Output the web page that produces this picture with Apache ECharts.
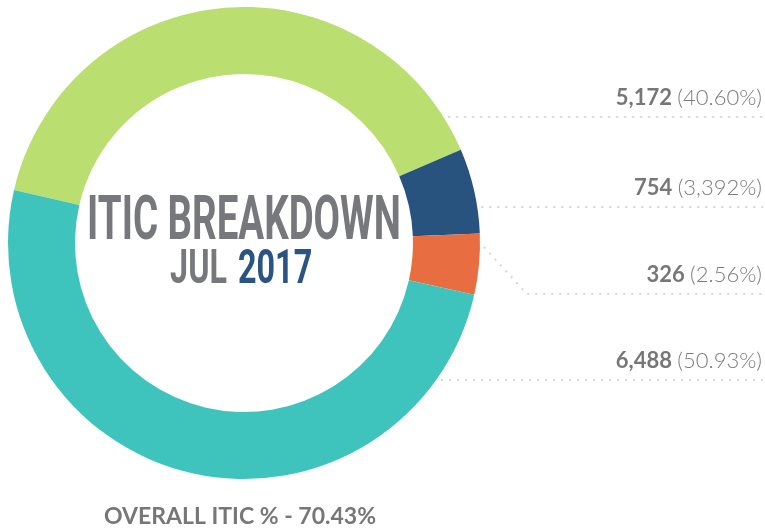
<!DOCTYPE html>
<html>
<head>
<meta charset="utf-8">
<script src="https://cdn.jsdelivr.net/npm/echarts@6/dist/echarts.min.js"></script>
<style>
  html, body { margin: 0; padding: 0; background: #fff; }
  #chart { width: 765px; height: 529px; }
</style>
</head>
<body>
<div id="chart"></div>
<script>
// data
var names = ['Green', 'Blue', 'Orange', 'Teal'];
var values = [5172, 754, 326, 6488];
var pctLabels = ['40.60%', '3,392%', '2.56%', '50.93%'];
var colors = ['#badf70', '#27537e', '#e86e42', '#3fc4bd'];
var labelRowY = [117, 207, 294, 380]; // y of each dotted guide line

var cx = 244, cy = 243, R = 236, r = 169;
var lineEndX = 763;

var chart = echarts.init(document.getElementById('chart'));

function ringX(y) {
  var dy = y - cy;
  return cx + Math.sqrt((R + 4) * (R + 4) - dy * dy);
}

var option = {
  backgroundColor: '#fff',
  animation: false,
  series: [
    {
      type: 'pie',
      center: [cx, cy],
      radius: [r, R],
      startAngle: 167,
      minAngle: 15,
      clockwise: true,
      avoidLabelOverlap: false,
      silent: true,
      data: values.map(function (v, i) {
        return { name: names[i], value: v, itemStyle: { color: colors[i] } };
      }),
      label: {
        show: true,
        position: 'outside',
        formatter: function (p) {
          return '{v|' + values[p.dataIndex].toLocaleString('en-US') + ' }{p|(' + pctLabels[p.dataIndex] + ')}';
        },
        rich: {
          v: { fontFamily: 'Lato', fontWeight: 'bold', fontSize: 22, color: '#777' },
          p: { fontFamily: 'Lato', fontWeight: 300, fontSize: 22, color: '#7c7c7c' }
        }
      },
      labelLine: {
        show: true,
        lineStyle: { type: [2, 6], width: 2, color: '#d6d6d6' }
      },
      labelLayout: function (params) {
        var i = params.dataIndex;
        var ly = labelRowY[i];
        var pts;
        if (i === 2) {
          // orange guide bends down from the slice
          pts = [[ringX(247), 247], [527, ly], [lineEndX, ly]];
        } else {
          var sx = ringX(ly);
          pts = [[sx, ly], [sx + 1, ly], [lineEndX, ly]];
        }
        return {
          x: 762,
          y: ly - 19,
          align: 'right',
          verticalAlign: 'middle',
          labelLinePoints: pts
        };
      }
    }
  ],
  graphic: [
    {
      type: 'text',
      x: 244, y: 223,
      scaleX: 0.62,
      style: {
        text: 'ITIC BREAKDOWN',
        font: 'bold 62px Roboto',
        fill: '#77787b',
        align: 'center',
        verticalAlign: 'middle'
      }
    },
    {
      type: 'text',
      x: 227, y: 271,
      scaleX: 0.66,
      style: {
        text: 'JUL',
        font: 'bold 49px Roboto',
        fill: '#77787b',
        align: 'right',
        verticalAlign: 'middle'
      }
    },
    {
      type: 'text',
      x: 238, y: 271,
      scaleX: 0.66,
      style: {
        text: '2017',
        font: 'bold 49px Roboto',
        fill: '#2a5582',
        align: 'left',
        verticalAlign: 'middle'
      }
    },
    {
      type: 'text',
      x: 240, y: 517,
      style: {
        text: 'OVERALL ITIC % - 70.43%',
        font: 'bold 23px Lato',
        fill: '#777',
        align: 'center',
        verticalAlign: 'middle'
      }
    }
  ]
};

chart.setOption(option);
</script>
</body>
</html>
